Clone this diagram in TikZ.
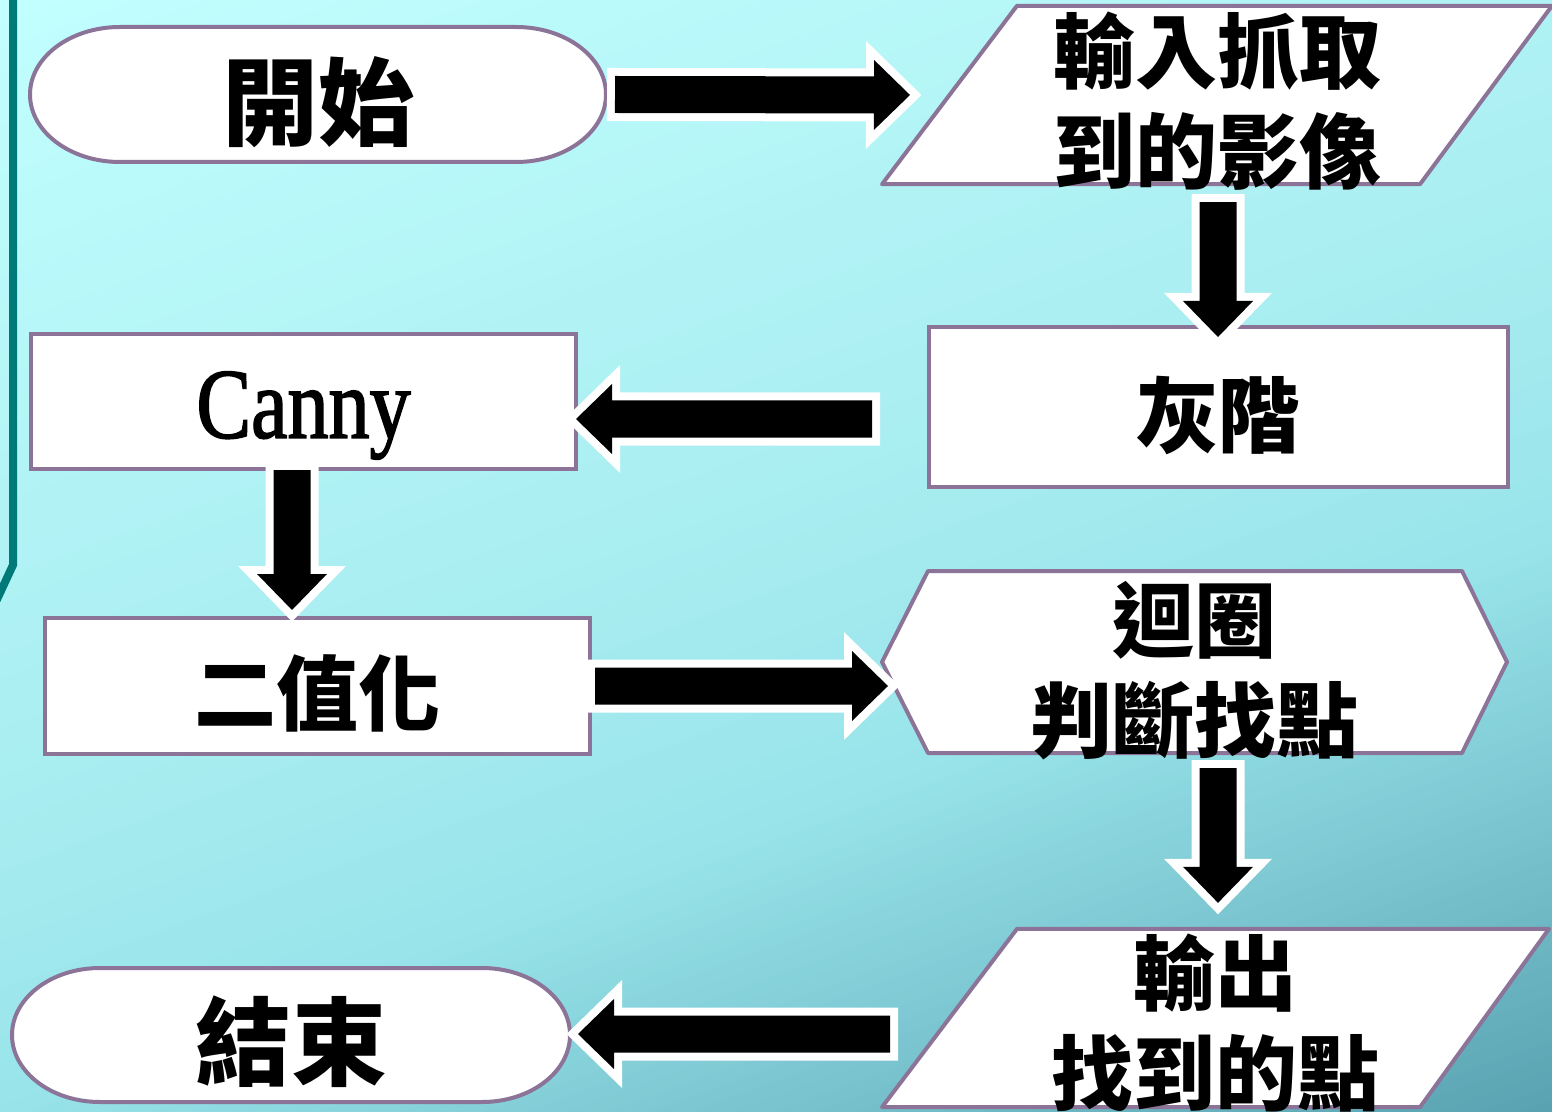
\documentclass[tikz,border=0pt]{standalone}
\usepackage{fontspec}
\usetikzlibrary{calc}
\newfontfamily\cjk{Noto Sans CJK TC}
\newfontfamily\latinf[FakeStretch=0.82,FakeBold=1.6]{Liberation Serif}
\definecolor{bgA}{HTML}{C2FFFF}
\definecolor{bgB}{HTML}{AAEEF1}
\definecolor{bgC}{HTML}{98E4EA}
\definecolor{bgD}{HTML}{559EAE}
\definecolor{edge}{HTML}{8B7498}
\definecolor{tealline}{HTML}{007A78}
\pgfdeclarelayer{background}
\pgfsetlayers{background,main}
\newcommand\lowtxt[2][4pt]{\raisebox{-#1}[\height][\depth]{#2}}
\newcommand\bgseg[5]{%
  \foreach \i in {1,...,#5}{%
    \pgfmathsetmacro\sa{(#1+(#2-#1)*(\i-1)/#5)*1576}%
    \pgfmathsetmacro\sb{(#1+(#2-#1)*\i/#5)*1576+1.5}%
    \pgfmathsetmacro\pc{100-100*(\i-0.5)/#5}%
    \fill[#3!\pc!#4] ({\sa*0.342+2500*0.9397},{\sa*0.9397-2500*0.342})
      -- ({\sa*0.342-2500*0.9397},{\sa*0.9397+2500*0.342})
      -- ({\sb*0.342-2500*0.9397},{\sb*0.9397+2500*0.342})
      -- ({\sb*0.342+2500*0.9397},{\sb*0.9397-2500*0.342}) -- cycle;
  }}
\newcommand\blockarr[2]{%
  \coordinate (ba-h) at ($(#2)!18pt!(#1)$);
  \path[barrow] ($(#1)!9.25pt!90:(#2)$) -- ($(ba-h)!9.25pt!90:(#2)$)
    -- ($(ba-h)!17.5pt!90:(#2)$) -- (#2) -- ($(ba-h)!17.5pt!-90:(#2)$)
    -- ($(ba-h)!9.25pt!-90:(#2)$) -- ($(#1)!9.25pt!-90:(#2)$) -- cycle;}
\begin{document}
\begin{tikzpicture}[x=0.5pt,y=-0.5pt,
  shapebox/.style={inner sep=0pt, outer sep=0pt, align=center},
  rectbox/.style={shapebox, draw=edge, line width=2pt, fill=white},
  shapeline/.style={draw=edge, line width=2pt, fill=white, line join=round},
  cjkbig/.style={font=\cjk\bfseries\fontsize{48pt}{56pt}\selectfont},
  cjktext/.style={font=\cjk\bfseries\fontsize{41pt}{50pt}\selectfont},
  barrow/.style={fill=black, preaction={draw=white, line width=8pt, line join=miter}},
  leftline/.style={draw=tealline, line width=4pt}]
\useasboundingbox (0,0) rectangle (1552,1112);
% nodes
\node[shapebox, cjkbig, minimum width=288pt, minimum height=67.5pt] (s1) at (318,94.5) {\lowtxt{開始}};
\node[shapebox, cjktext, minimum width=335pt, minimum height=83pt] (p1) at (1217,95) {\lowtxt[3pt]{輸入抓取}\\\lowtxt[3pt]{到的影像}};
\node[rectbox, cjktext, minimum width=289.5pt, minimum height=80pt] (r1) at (1218.5,407) {\lowtxt[4.5pt]{灰階}};
\node[rectbox, font=\latinf\fontsize{50pt}{56pt}\selectfont, minimum width=272.5pt, minimum height=67.5pt] (r2) at (303.5,401.5) {\lowtxt[7pt]{Canny}};
\node[rectbox, cjktext, minimum width=272.5pt, minimum height=68pt] (r3) at (317.5,686) {\lowtxt[3.5pt]{二值化}};
\node[shapebox, cjktext, minimum width=312.5pt, minimum height=91pt] (h1) at (1194.5,662) {\lowtxt[4.5pt]{迴圈}\\\lowtxt[4.5pt]{判斷找點}};
\node[shapebox, cjktext, minimum width=333.5pt, minimum height=80pt] (p2) at (1215.5,1018) {\lowtxt[2.5pt]{輸出}\\\lowtxt[2.5pt]{找到的點}};
\node[shapebox, cjkbig, minimum width=279pt, minimum height=67pt] (s2) at (291,1035) {\lowtxt[3.5pt]{結束}};
% background and outlined shapes
\begin{pgfonlayer}{background}
\begin{scope}
\clip (0,0) rectangle (1552,1112);
\bgseg{0}{0.45}{bgA}{bgB}{30}
\bgseg{0.45}{0.66}{bgB}{bgC}{15}
\bgseg{0.66}{1.02}{bgC}{bgD}{40}
\draw[leftline] (13,-10) -- (13,565) -- (-10,614.5);
\end{scope}
\draw[shapeline] ($(s1.north west)+(90,0)$) -- ($(s1.north east)+(-90,0)$)
  arc[start angle=-90, end angle=90, x radius=90, y radius=67.5]
  -- ($(s1.south west)+(90,0)$)
  arc[start angle=90, end angle=270, x radius=90, y radius=67.5] -- cycle;
\draw[shapeline] ($(s2.north west)+(88,0)$) -- ($(s2.north east)+(-88,0)$)
  arc[start angle=-90, end angle=90, x radius=88, y radius=67]
  -- ($(s2.south west)+(88,0)$)
  arc[start angle=90, end angle=270, x radius=88, y radius=67] -- cycle;
\draw[shapeline] ($(p1.north west)+(135,0)$) -- (p1.north east)
  -- ($(p1.south east)+(-132,0)$) -- (p1.south west) -- cycle;
\draw[shapeline] ($(p2.north west)+(135,0)$) -- (p2.north east)
  -- ($(p2.south east)+(-129,0)$) -- (p2.south west) -- cycle;
\draw[shapeline] (h1.west) -- ($(h1.north west)+(46,0)$) -- ($(h1.north east)+(-45,0)$)
  -- (h1.east) -- ($(h1.south east)+(-45,0)$) -- ($(h1.south west)+(46,0)$) -- cycle;
\end{pgfonlayer}
% connectors
\coordinate (a1s) at ($(s1.east)+(9,0)$);
\coordinate (a1e) at ($(p1.west)+(28,0)$);
\coordinate (a2s) at ($(r1.west)+(-57,12)$);
\coordinate (a2e) at ($(r2.east)+(0,17.5)$);
\coordinate (a3s) at ($(p1.south)+(1,18)$);
\coordinate (a3e) at ($(r1.north)+(-0.5,10)$);
\coordinate (a4s) at ($(r2.south)+(-11.5,1)$);
\coordinate (a4e) at ($(r3.north)+(-25.5,-8)$);
\coordinate (a5s) at ($(r3.east)+(5,0)$);
\coordinate (a5e) at ($(h1.west)+(6,24)$);
\coordinate (a6s) at ($(h1.south)+(23.5,15)$);
\coordinate (a6e) at ($(p2.north)+(2.5,-26)$);
\coordinate (a7s) at ($(p2.west)+(8,16)$);
\coordinate (a7e) at ($(s2.east)+(8,-1)$);
\blockarr{a1s}{a1e}
\blockarr{a2s}{a2e}
\blockarr{a3s}{a3e}
\blockarr{a4s}{a4e}
\blockarr{a5s}{a5e}
\blockarr{a6s}{a6e}
\blockarr{a7s}{a7e}
\end{tikzpicture}
\end{document}
